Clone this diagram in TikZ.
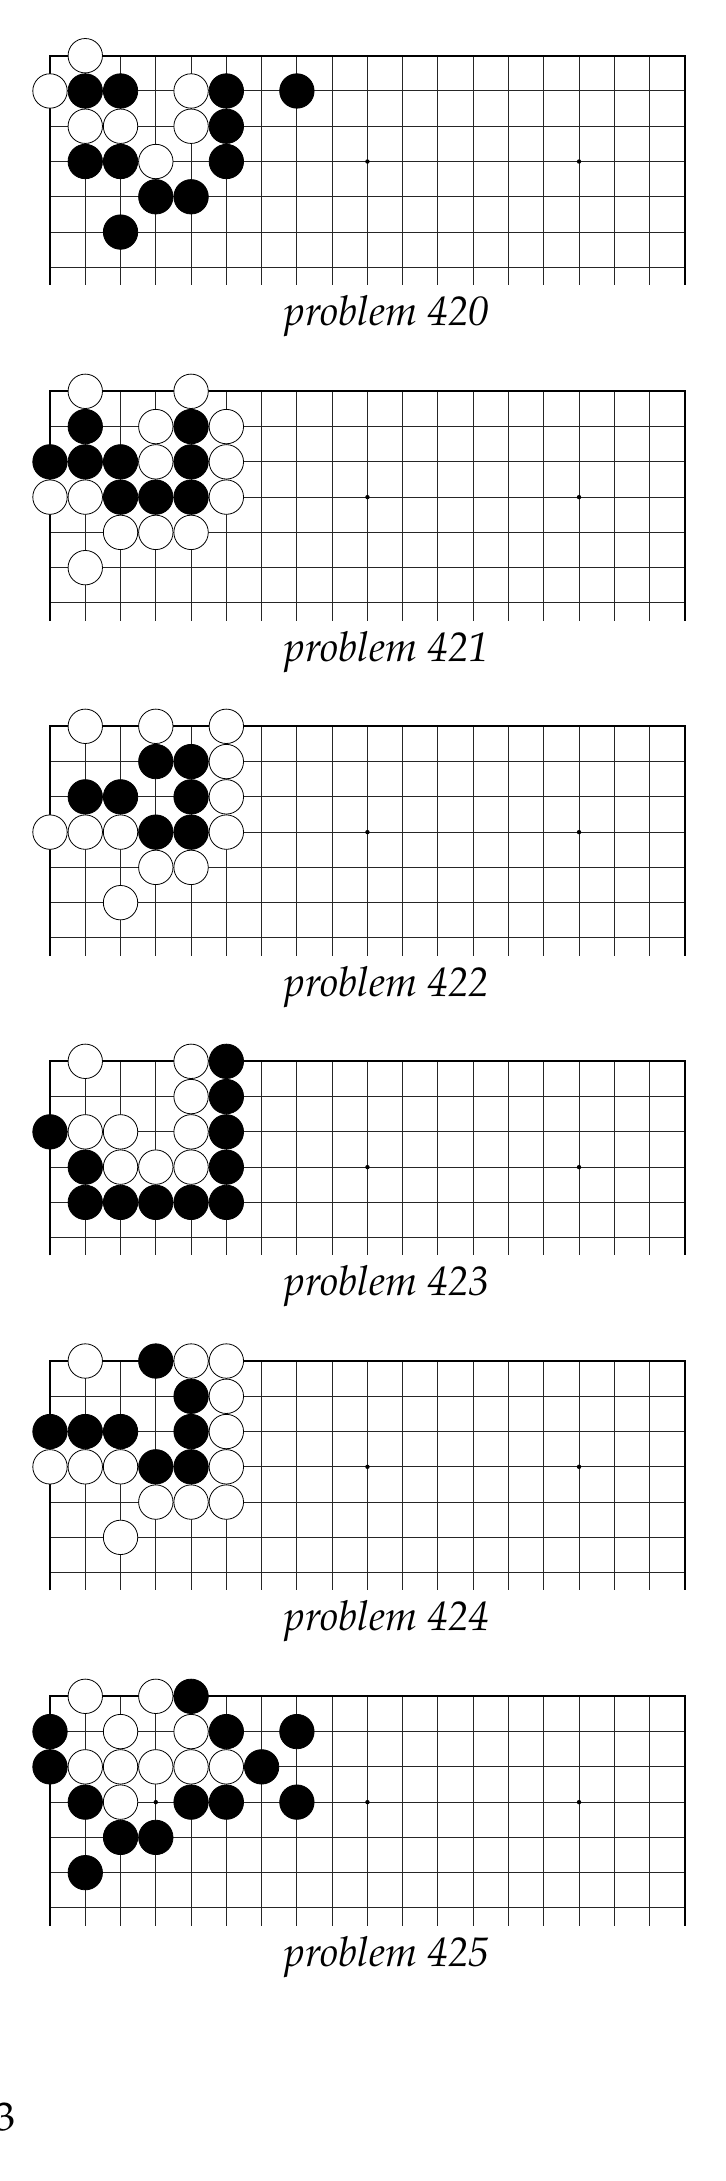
\documentclass[tikz,border=0pt]{standalone}
\usepackage[T1]{fontenc}
\newcommand\palfont{\fontfamily{ppl}\selectfont}
\tikzset{
 gridline/.style={line width=0.5pt, black!85},
 edgeline/.style={line width=0.9pt, black},
 bstone/.style={circle, draw=black, fill=black, line width=0.4pt, minimum size=17.2pt, inner sep=0pt},
 wstone/.style={circle, draw=black, fill=white, line width=0.4pt, minimum size=17.2pt, inner sep=0pt},
 hoshi/.style={circle, fill=black, minimum size=2.2pt, inner sep=0pt},
 problabel/.style={anchor=base, font=\palfont\itshape\fontsize{20.6}{24}\selectfont, inner sep=0pt},
 pagenum/.style={anchor=base east, font=\palfont\fontsize{20}{24}\selectfont, inner sep=0pt},
}
\newcommand\goboard[5]{%
 \begin{scope}[shift={(50,#1)}, x=17.635pt, y=-17.635pt]
  \foreach \r in {1,...,#2} \draw[gridline] (0,\r) -- (18,\r);
  \foreach \c in {1,...,17} \draw[gridline] (\c,0) -- (\c,#2+0.5);
  \draw[edgeline] (0,#2+0.5) -- (0,0) -- (18,0) -- (18,#2+0.5);
  \foreach \c in {3,9,15} \node[hoshi] (h#3-\c) at (\c,3) {};
  \foreach \c/\r in {#4} \node[bstone] (b#3-\c-\r) at (\c,\r) {};
  \foreach \c/\r in {#5} \node[wstone] (w#3-\c-\r) at (\c,\r) {};
  \node[problabel] (p#3) at (9.555,#2+1.65) {problem #3};
 \end{scope}}
\begin{document}
\begin{tikzpicture}[x=0.5pt, y=-0.5pt]
\fill[white] (0,0) rectangle (725,2181);
\useasboundingbox (0,0) rectangle (725,2181);
\goboard{55.7}{6}{420}{1/1,2/1,5/1,7/1,5/2,1/3,2/3,5/3,3/4,4/4,2/5}{1/0,0/1,4/1,1/2,2/2,4/2,3/3}
\goboard{391.3}{6}{421}{1/1,4/1,0/2,1/2,2/2,4/2,2/3,3/3,4/3}{1/0,4/0,3/1,5/1,3/2,5/2,0/3,1/3,5/3,2/4,3/4,4/4,1/5}
\goboard{726.3}{6}{422}{3/1,4/1,1/2,2/2,4/2,3/3,4/3}{1/0,3/0,5/0,5/1,5/2,0/3,1/3,2/3,5/3,3/4,4/4,2/5}
\goboard{1061.3}{5}{423}{5/0,5/1,0/2,5/2,1/3,5/3,1/4,2/4,3/4,4/4,5/4}{1/0,4/0,4/1,1/2,2/2,4/2,2/3,3/3,4/3}
\goboard{1361}{6}{424}{3/0,4/1,0/2,1/2,2/2,4/2,3/3,4/3}{1/0,4/0,5/0,5/1,5/2,0/3,1/3,2/3,5/3,3/4,4/4,5/4,2/5}
\goboard{1696.3}{6}{425}{4/0,0/1,5/1,7/1,0/2,6/2,1/3,4/3,5/3,7/3,2/4,3/4,1/5}{1/0,3/0,2/1,4/1,1/2,2/2,3/2,4/2,5/2,2/3}
\node[pagenum] (pg) at (16,2130.7) {3};
\end{tikzpicture}
\end{document}
